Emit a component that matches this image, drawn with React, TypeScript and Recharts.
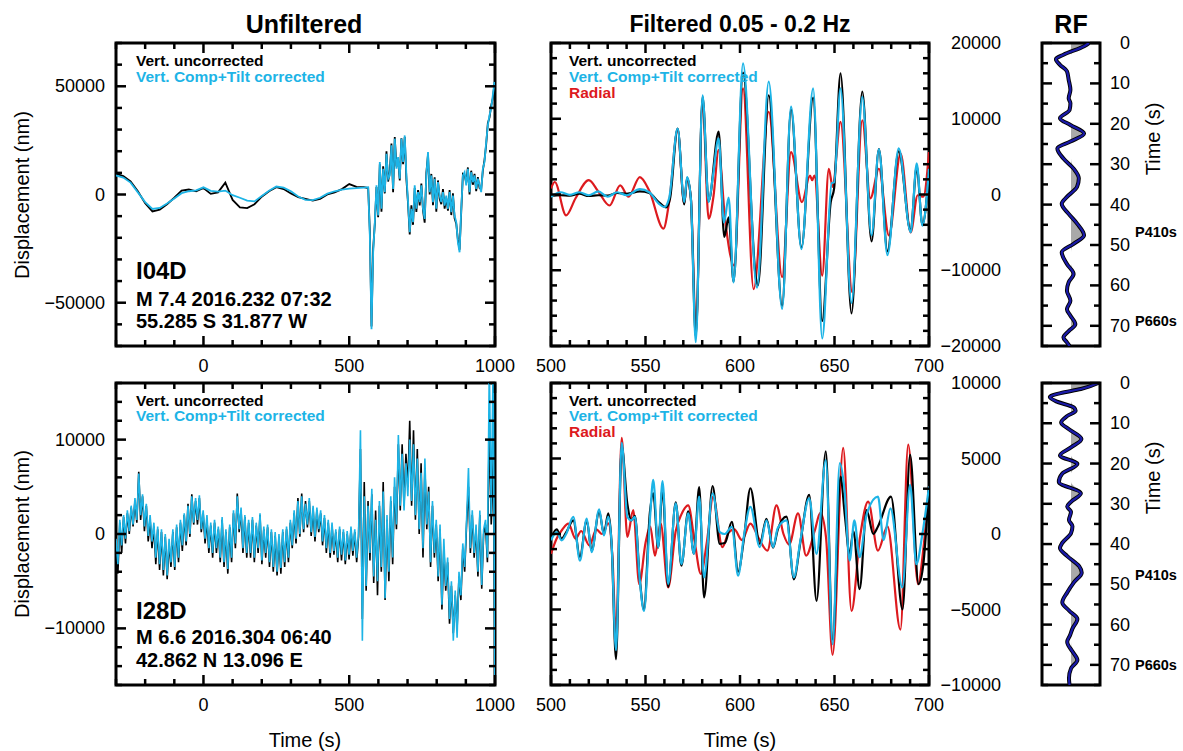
import React from "react";
import {
  LineChart,
  ComposedChart,
  Line,
  Area,
  XAxis,
  YAxis,
  ReferenceArea,
} from "recharts";

const CYAN = "#1db4e6";
const RED = "#dd1a1e";
const NAVY = "#1a1aa8";
const FONT = "'Liberation Sans', Arial, Helvetica, sans-serif";

// ---------- Unfiltered, I04D (slow part every 25 s from -300, noisy part every 5.7 s from 565)
const tlUncorrSlow = [9600, 8500, 6000, 1500, -4000, -7800, -7000, -4500, -1500, 1800, 2300, 1500, 3000, 300, 1000, 5500, -2500, -6000, -6300, -4500, -1000, 1500, 3400, 2500, 500, -1200, -2000, -2800, -2000, 0, 1000, 2500, 4800, 3500, 3400];
const tlCorrSlow = [8800, 7800, 5500, 1000, -3500, -6700, -6200, -4200, -1800, 600, 1500, 1900, 3300, 1700, 1300, 1800, -300, -1500, -2800, -3200, -700, 1700, 3700, 3200, 1500, -900, -2500, -2600, -1500, 400, 1500, 2300, 2700, 2900, 3200];
const tlUncorrFast = [
  3000, -17000, -61000, -25000, -13500, 3500, -10500, 14000, -8000, 13000,
  500, 20000, 6000, 10500, 23500, 1000, 26500, 13000, 16000, 6500,
  26000, 14000, 26500, 7000, -4500, -18500, -5000, -14000, 3000, -8000,
  2000, -5000, 5000, -7500, -13000, 10000, 18500, 0, 9500, -5000,
  8000, -8000, 6500, -2000, -4500, 2500, -6500, -1500, -7500, 2000,
  -9500, 500, -11000, -13500, -21000, -25500, -8000, 9500, 9000, 5500,
  12500, 0, 11000, 4500, 9500, 1500, 8000, 3000, 2500, 11000,
  16000, 23000, 33000, 35500, 41000, 44500, 51000,
];
const tlCorrFast = [
  3400, -19000, -62200, -26700, -12800, 4200, -9700, 15000, -6600, 11900,
  1100, 18800, 7300, 8800, 22700, 2600, 25800, 11900, 17300, 7300,
  25800, 15000, 27300, 8800, -3500, -17400, -6600, -12800, 4200, -6600,
  1100, -3500, 4200, -6600, -11300, 8800, 19600, 1100, 8800, -3500,
  7300, -6600, 5700, -500, -3500, 1100, -5100, -500, -6600, 1100,
  -8200, -500, -9700, -12800, -22100, -26700, -6600, 8800, 10300, 4200,
  11900, 1100, 10300, 5700, 8800, 2600, 7300, 4200, 1100, 11900,
  15000, 24200, 31900, 36600, 39700, 45800, 52000,
];

// ---------- Unfiltered, I28D (every 6.5 s from -300)
const blUncorr = [
  -800, -4200, 1200, -2000, 1800, -1000, 2200, 0, 2800, 800,
  3500, 1200, 6600, 1500, 4000, 300, 3000, -800, 1500, -1500,
  800, -3200, 500, -3800, 200, -4400, -300, -4800, -1000, -3500,
  200, -3800, 700, -3000, 1200, -1800, 2000, -1200, 3200, -300,
  4200, 1000, 3500, 1000, 3800, 200, 2200, -1000, 1500, -2000,
  900, -2500, 1200, -2000, 500, -3000, 1500, -3500, 200, -4200,
  700, -3000, 2200, -1500, 4300, 200, 2500, -2000, 1800, -2500,
  1200, -2500, 1500, -3000, 900, -2000, 2000, -3200, 500, -2500,
  700, -3500, 200, -4000, -200, -4400, -300, -4200, 200, -3500,
  500, -3000, 1200, -1500, 2200, -1000, 3800, -300, 4300, 200,
  3500, 700, 3500, -200, 2700, -800, 2500, 200, 2200, -1200,
  1700, -2000, 1200, -2500, 900, -2200, 200, -3000, 500, -2800,
  200, -3200, 0, -2700, 500, -2300, 200, -3000, -300, 9000,
  -9000, 5500, -6000, 3500, -2800, 4200, -5200, 2500, -6500, 3000,
  -4000, 5500, -7000, 1500, -5000, 3500, -3200, 5000, 500, 9500,
  2500, 9500, 3000, 8500, 5000, 12000, 3000, 11000, 1500, 9000,
  0, 7500, -2500, 7000, 500, 5000, -3500, 3000, -2500, 1000,
  -5000, 500, -8000, -1500, -6000, -3000, -9500, -5500, -10500, -6500,
  -10000, -4500, -7000, -1500, -4000, 1000, 5000, -2000, 2000, -2500,
  500, -4500, 2000, -5800, 0, 1000, -3000, 12000, 1000, 8000, -12000,
];
const blCorr = [
  -500, -3200, 1500, -1200, 2000, -500, 2500, 300, 3000, 1000,
  3800, 1500, 6400, 2000, 4200, 800, 3200, -200, 2000, -800,
  1200, -2500, 800, -3200, 500, -3800, 0, -4400, -500, -3000,
  500, -3500, 1000, -2500, 1500, -1200, 2200, -800, 3000, 0,
  4000, 1200, 3800, 1500, 4100, 500, 2500, -500, 2000, -1500,
  1200, -2000, 1500, -1500, 800, -2500, 1800, -3000, 500, -3700,
  1000, -2500, 2500, -1000, 4000, 500, 2800, -1500, 2000, -2000,
  1500, -2000, 1800, -2500, 1200, -1500, 2200, -2800, 800, -2000,
  1000, -3000, 500, -3500, 200, -4000, 0, -3600, 500, -3000,
  800, -2500, 1500, -1200, 2500, -500, 3500, 0, 4000, 500,
  3200, 1000, 3800, 200, 3000, -300, 2800, 500, 2500, -800,
  2000, -1500, 1500, -2000, 1200, -1800, 500, -2500, 800, -2200,
  500, -2800, 300, -2200, 800, -1800, 500, -2500, 0, 11000,
  -11300, 4000, -5500, 3000, -2000, 4800, -4500, 1500, -5000, 3500,
  -3500, 4500, -6800, 2000, -4000, 4000, -2500, 6000, 1000, 10500,
  3000, 8500, 2500, 7500, 4000, 10000, 3500, 9500, 2000, 8000,
  500, 6500, -1500, 8000, 1000, 4500, -3000, 3500, -2000, 1500,
  -4500, 1000, -7500, -500, -5500, -2500, -9000, -5000, -11300, -6000,
  -11000, -4000, -6500, -1000, -3500, 1500, 7000, -1500, 2500, -2000,
  1000, -4000, 2500, -5400, 500, 1500, -2500, 18000, 2000, 18000, -18000,
];

// ---------- Filtered 0.05-0.2 Hz, I04D  [time s, nm]
const tmUncorr = [[500, -200], [505, -100], [510, -150], [515, 100], [520, -200], [525, -100], [530, -150], [535, 200], [540, 100], [547, 400], [552, 200], [557, -1000], [561, -1700], [563, -500], [567, 8700], [570.5, -1300], [572, 2200], [574, -500], [576.6, -18800], [580.2, 12900], [583.4, -900], [588.7, 8300], [591.7, -5600], [594, -3000], [596.6, -11500], [601.6, 16100], [608.5, -11200], [609.5, -12000], [615.2, 13100], [622.3, -14700], [627, 11200], [632.5, -7000], [638.7, 12800], [643.5, -16700], [648, -1000], [649.8, 800], [653.2, 16000], [659, -15700], [664.7, 13600], [669.6, -6200], [673.5, 6000], [678, -7500], [684, 5700], [690.3, -4800], [693.5, 3700], [696.5, -4000], [700, 3000]];
const tmCorr = [[500, -300], [505, 300], [510, -50], [515, 300], [520, -100], [525, 400], [530, -300], [535, 300], [540, -100], [547, 700], [552, 300], [557, -1200], [560, -1650], [562.5, -500], [567, 8700], [570.5, -1000], [572, 2300], [574, -500], [576.6, -19500], [580.2, 13100], [583.4, -1000], [585.5, 2100], [588.7, 7400], [591.5, -3700], [594, -400], [596.6, -11600], [601.6, 17300], [609, -12300], [615.2, 14900], [622.3, -15100], [627, 11600], [632.5, -7200], [638.7, 14000], [643.5, -19000], [648.5, 1500], [649.8, 1600], [653.2, 14000], [659, -14300], [664.7, 12900], [669.6, -5400], [673.5, 6000], [678, -8000], [684, 6100], [690.3, -5000], [693.5, 4100], [696.5, -4100], [700, 3400]];
const tmRadial = [[500, 800], [502, 1650], [508, -2760], [513, -500], [520, 1900], [525, 400], [531, -1450], [536.6, 1200], [541, -300], [547, 2300], [552, 500], [559.5, -4500], [562.5, -1000], [567, 8500], [570.5, -1200], [572, 2000], [574, -500], [576.7, -17800], [580.2, 12300], [583.4, -3200], [586, -200], [588.7, 5900], [592, -3000], [597, -9400], [601.6, 14000], [607.2, -12500], [615.2, 10900], [622.3, -10900], [627, 5600], [632.8, -1000], [637, 2500], [638.2, 1900], [639.4, 2500], [643.5, -10700], [647, 3400], [649, 1000], [653.2, 9600], [659.4, -12900], [664.7, 9800], [669, -500], [673.5, 3400], [678.8, -5400], [685, 5400], [690.3, -5000], [694, -100], [697, -300], [700, 5600]];

// ---------- Filtered 0.05-0.2 Hz, I28D
const bmUncorr = [[500, -300], [503, 300], [505.6, -300], [508, 100], [511.8, 900], [515.3, -1500], [518.9, 900], [521.5, -1100], [525.5, 1500], [528, 0], [530.3, 1360], [532, -500], [534.4, -8300], [537.4, 5800], [540.4, 1990], [542.5, 900], [544.4, 1200], [547, -3000], [549.2, -5000], [552.3, 1400], [554.1, 2700], [556.7, -900], [559, 3000], [562, -3500], [566, 2100], [569, -2100], [572.6, 1500], [575.6, -1300], [578.4, 3100], [581, -4200], [585.5, 3180], [589.3, -650], [592, -600], [595.7, 800], [599, -2500], [602, -400], [605.5, 3030], [610.5, -650], [614, 1000], [617.5, -900], [620, 300], [624.6, 1150], [628.5, -3000], [632, -500], [636.6, 2600], [640.5, -4430], [645.4, 5480], [649, -7000], [653.2, 3800], [655.5, 1200], [658, -1300], [660, 200], [663.3, -3650], [667, 1580], [670.5, 0], [673, 500], [679.9, 2470], [686, -5000], [690, 5250], [694.5, -3320], [697, -2000], [700, 3140]];
const bmCorr = [[500, -420], [503, 130], [505.6, -420], [508, 0], [511.8, 1140], [515.3, -1760], [518.9, 1020], [521.5, -1200], [525.5, 1630], [528, -100], [530.3, 1150], [532, -500], [534.4, -7700], [537.4, 6040], [540.4, 1140], [542.5, 900], [544.4, 1140], [547, -3100], [549.2, -5100], [552.3, 900], [554.1, 3590], [556.7, -870], [559, 3500], [562, -3320], [566, 2030], [569, -2000], [572.6, 1360], [575.6, -1310], [578.4, 2470], [581, -2870], [585.5, 2700], [589.3, 130], [592, 0], [595.7, 470], [599, -2760], [602, -200], [605.5, 1800], [610.5, -870], [614, 900], [617.5, -870], [620, 400], [624.6, 900], [628.5, -2870], [632, -400], [636.6, 2360], [640.5, -1310], [645.4, 4900], [649, -7300], [652.8, 4700], [655.3, 2900], [658, -1760], [660.5, 900], [663.3, -1540], [667, 1300], [673, 2470], [676, -400], [679.6, 1700], [685.9, -3540], [690, 3250], [693.3, -2000], [696.5, 0], [700, 3140]];
const bmRadial = [[500, -1310], [503, -300], [506, 300], [509.2, 690], [513, -300], [516, 200], [520.3, -760], [524, 300], [527, 0], [530.3, 700], [532.5, -1500], [534.4, -6660], [537.4, 6370], [540.4, -200], [543.5, 1580], [546.7, -3320], [550, -600], [552.5, 500], [555, -1430], [558, 700], [562, -3540], [566, 200], [569, 1300], [572.6, 1900], [576, -500], [579.3, -2650], [582.5, -500], [585.8, 2470], [590.7, -870], [594, 100], [597, 300], [601, -400], [605.5, 690], [610, -300], [614.5, -1100], [619.3, 1900], [623, 0], [626, -700], [630.7, 1360], [635, -1430], [639.5, 200], [642.5, 1400], [645.5, -200], [649, -8000], [654.6, 5700], [659, -5100], [663.5, -200], [667.8, 2140], [673, -1100], [678, 500], [684.9, -6330], [689, 5920], [694.2, -3320], [697, -1000], [700, 3140]];

// ---------- Receiver functions [time s, amplitude]
const rfTop = [[0, 0.62], [0.8, 0.45], [2.9, -0.26], [4, -0.52], [5.4, -0.38], [7, -0.14], [9.1, -0.08], [11.6, -0.02], [13.7, -0.08], [14.9, -0.02], [16.6, -0.05], [18.6, -0.38], [20.3, -0.02], [22.4, 0.45], [24.4, -0.02], [26.1, -0.47], [28.6, -0.26], [31.1, 0.09], [33.5, 0.27], [35.6, 0.21], [38.1, -0.14], [39.8, -0.32], [42.3, -0.08], [44.7, 0.21], [47.6, 0.45], [49.7, 0.09], [51.8, -0.32], [54.7, -0.14], [57.2, 0.09], [59.2, -0.08], [61.3, -0.14], [63.8, -0.02], [65.9, -0.14], [67.5, -0.02], [69.6, 0.15], [71.3, -0.08], [72.9, -0.26], [74.1, -0.14], [75, -0.05]];
const rfBottom = [[0, 0.94], [1.5, 0.34], [2.5, -0.36], [3.5, -0.73], [4.5, -0.53], [6.1, 0.1], [6.9, 0.16], [8.2, -0.13], [9.8, -0.34], [11.5, -0.07], [13.9, 0.36], [16, 0], [18, -0.38], [20.1, 0.22], [22.5, -0.3], [24.6, -0.42], [27.4, 0.34], [29.5, 0], [30.7, -0.13], [32, 0], [34, -0.07], [35.6, 0.05], [37.3, 0], [39.7, -0.3], [41, -0.38], [43, -0.13], [45.5, 0.28], [47.1, 0.37], [49.5, 0.1], [52, -0.13], [54.5, -0.3], [56.5, -0.07], [58.6, 0.22], [61, 0.05], [62.6, -0.03], [64.3, -0.13], [66.7, 0.05], [68.8, 0.22], [70.9, 0], [73.3, -0.07], [75, -0.05]];

// ---------- ticks
const unfXTicks = [-300, -200, -100, 0, 100, 200, 300, 400, 500, 600, 700, 800, 900, 1000];
const unfXLabels = [0, 500, 1000];
const filtXTicks = [500, 510, 520, 530, 540, 550, 560, 570, 580, 590, 600, 610, 620, 630, 640, 650, 660, 670, 680, 690, 700];
const filtXLabels = [500, 550, 600, 650, 700];
const tlYTicks = [-70000, -60000, -50000, -40000, -30000, -20000, -10000, 0, 10000, 20000, 30000, 40000, 50000, 60000, 70000];
const tlYLabels = [-50000, 0, 50000];
const blYTicks = [-16000, -14000, -12000, -10000, -8000, -6000, -4000, -2000, 0, 2000, 4000, 6000, 8000, 10000, 12000, 14000, 16000];
const blYLabels = [-10000, 0, 10000];
const tmYTicks = [-20000, -18000, -16000, -14000, -12000, -10000, -8000, -6000, -4000, -2000, 0, 2000, 4000, 6000, 8000, 10000, 12000, 14000, 16000, 18000, 20000];
const tmYLabels = [-20000, -10000, 0, 10000, 20000];
const bmYTicks = [-10000, -9000, -8000, -7000, -6000, -5000, -4000, -3000, -2000, -1000, 0, 1000, 2000, 3000, 4000, 5000, 6000, 7000, 8000, 9000, 10000];
const bmYLabels = [-10000, -5000, 0, 5000, 10000];
const rfTicks = [0, 5, 10, 15, 20, 25, 30, 35, 40, 45, 50, 55, 60, 65, 70, 75];
const rfLabels = [0, 10, 20, 30, 40, 50, 60, 70];

type Pt = { t: number; v: number };

const sampled = (t0: number, dt: number, vals: number[]): Pt[] =>
  vals.map((v, i) => ({ t: t0 + i * dt, v }));
const paired = (rows: number[][]): Pt[] => rows.map(([t, v]) => ({ t, v }));

const fmt = (v: number) => (v < 0 ? "\u2212" + Math.abs(v) : String(v));

const M = 80;
const AX = 30; // axis band kept inside the margin

function xTick(h: number, labels: number[], dy: number) {
  return (props: any) => {
    const { x, y, payload } = props;
    const v = payload.value;
    const len = labels.includes(v) ? 10 : 6;
    return (
      <g>
        <line x1={x} x2={x} y1={y} y2={y - len} stroke="#000" strokeWidth={2.5} />
        <line x1={x} x2={x} y1={y - h} y2={y - h + len} stroke="#000" strokeWidth={2.5} />
        {labels.includes(v) && (
          <text x={x} y={y + dy} textAnchor="middle" dominantBaseline="central" fontSize={18} fontFamily={FONT} fill="#000">
            {fmt(v)}
          </text>
        )}
      </g>
    );
  };
}

function yTick(w: number, labels: number[], side: "left" | "right", dx: number) {
  return (props: any) => {
    const { x, y, payload } = props;
    const v = payload.value;
    const len = labels.includes(v) ? 10 : 6;
    const lx = side === "left" ? x - dx : x + w + dx;
    return (
      <g>
        <line x1={x} x2={x + len} y1={y} y2={y} stroke="#000" strokeWidth={2.5} />
        <line x1={x + w} x2={x + w - len} y1={y} y2={y} stroke="#000" strokeWidth={2.5} />
        {labels.includes(v) && (
          <text x={lx} y={y} textAnchor="end" dominantBaseline="central" fontSize={18} fontFamily={FONT} fill="#000">
            {fmt(v)}
          </text>
        )}
      </g>
    );
  };
}

interface Series {
  data: Pt[];
  color: string;
  width: number;
  curve: "linear" | "monotone";
}

interface PanelProps {
  left: number;
  top: number;
  w: number;
  h: number;
  xDomain: [number, number];
  xTicks: number[];
  xLabels: number[];
  yDomain: [number, number];
  yTicks: number[];
  yLabels: number[];
  ySide: "left" | "right";
  yDx: number;
  series: Series[];
}

function WavePanel(p: PanelProps) {
  return (
    <div style={{ position: "absolute", left: p.left - M, top: p.top - M }}>
      <LineChart
        width={p.w + 2 * M}
        height={p.h + 2 * M}
        margin={{ top: M, right: M, bottom: M - AX, left: M - AX }}
      >
        <XAxis
          type="number"
          dataKey="t"
          domain={p.xDomain}
          allowDataOverflow
          ticks={p.xTicks}
          interval={0}
          height={AX}
          tickSize={0}
          tickMargin={0}
          tickLine={false}
          axisLine={false}
          tick={xTick(p.h, p.xLabels, 20)}
        />
        <YAxis
          type="number"
          domain={p.yDomain}
          allowDataOverflow
          ticks={p.yTicks}
          interval={0}
          width={AX}
          tickSize={0}
          tickMargin={0}
          tickLine={false}
          axisLine={false}
          tick={yTick(p.w, p.yLabels, p.ySide, p.yDx)}
        />
        {p.series.map((s, i) => (
          <Line
            key={i}
            data={s.data}
            dataKey="v"
            type={s.curve}
            stroke={s.color}
            strokeWidth={s.width}
            dot={false}
            isAnimationActive={false}
          />
        ))}
        <ReferenceArea
          x1={p.xDomain[0]}
          x2={p.xDomain[1]}
          y1={p.yDomain[0]}
          y2={p.yDomain[1]}
          fill="none"
          fillOpacity={0}
          stroke="#000"
          strokeWidth={3}
        />
      </LineChart>
    </div>
  );
}

function RFPanel({ left, top, w, h, rows }: { left: number; top: number; w: number; h: number; rows: number[][] }) {
  const data = rows.map(([t, a]) => ({ t, a, pos: Math.max(a, 0) }));
  return (
    <div style={{ position: "absolute", left: left - M, top: top - M }}>
      <ComposedChart
        layout="vertical"
        width={w + 2 * M}
        height={h + 2 * M}
        margin={{ top: M, right: M, bottom: M - AX, left: M - AX }}
      >
        <XAxis
          type="number"
          domain={[-1, 1]}
          allowDataOverflow
          height={AX}
          tick={false}
          tickLine={false}
          axisLine={false}
        />
        <YAxis
          type="number"
          dataKey="t"
          domain={[0, 75]}
          allowDataOverflow
          ticks={rfTicks}
          interval={0}
          width={AX}
          tickSize={0}
          tickMargin={0}
          tickLine={false}
          axisLine={false}
          tick={yTick(w, rfLabels, "right", 30)}
        />
        <Area data={data} dataKey="pos" type="monotone" fill="#a9a9a9" fillOpacity={1} stroke="none" isAnimationActive={false} />
        <Line data={data} dataKey="a" type="monotone" stroke="#000" strokeWidth={4} dot={false} isAnimationActive={false} />
        <Line data={data} dataKey="a" type="monotone" stroke={NAVY} strokeWidth={2.2} dot={false} isAnimationActive={false} />
        <ReferenceArea x1={-1} x2={1} y1={0} y2={75} fill="none" fillOpacity={0} stroke="#000" strokeWidth={3} />
      </ComposedChart>
    </div>
  );
}

const legendStyle = { fontSize: 15.5, fontWeight: 700 as const, fontFamily: FONT };

export default function App() {
  const tlUnc = [...sampled(-300, 25, tlUncorrSlow), ...sampled(565, 5.7, tlUncorrFast)];
  const tlCor = [...sampled(-300, 25, tlCorrSlow), ...sampled(565, 5.7, tlCorrFast)];
  const blUnc = sampled(-300, 6.5, blUncorr);
  const blCor = sampled(-300, 6.5, blCorr);

  return (
    <div style={{ position: "absolute", left: 0, top: 0, width: 1183, height: 751, background: "#fff", fontFamily: FONT, overflow: "hidden" }}>
      <WavePanel
        left={116} top={43} w={379} h={303}
        xDomain={[-300, 1000]} xTicks={unfXTicks} xLabels={unfXLabels}
        yDomain={[-70000, 70000]} yTicks={tlYTicks} yLabels={tlYLabels} ySide="left" yDx={11}
        series={[
          { data: tlUnc, color: "#000", width: 1.8, curve: "linear" },
          { data: tlCor, color: CYAN, width: 1.8, curve: "linear" },
        ]}
      />
      <WavePanel
        left={551} top={43} w={378} h={303}
        xDomain={[500, 700]} xTicks={filtXTicks} xLabels={filtXLabels}
        yDomain={[-20000, 20000]} yTicks={tmYTicks} yLabels={tmYLabels} ySide="right" yDx={72}
        series={[
          { data: paired(tmRadial), color: RED, width: 2.2, curve: "monotone" },
          { data: paired(tmUncorr), color: "#000", width: 2.2, curve: "monotone" },
          { data: paired(tmCorr), color: CYAN, width: 2.2, curve: "monotone" },
        ]}
      />
      <RFPanel left={1042} top={43} w={58} h={303} rows={rfTop} />
      <WavePanel
        left={116} top={383} w={379} h={302}
        xDomain={[-300, 1000]} xTicks={unfXTicks} xLabels={unfXLabels}
        yDomain={[-16000, 16000]} yTicks={blYTicks} yLabels={blYLabels} ySide="left" yDx={11}
        series={[
          { data: blUnc, color: "#000", width: 1.6, curve: "linear" },
          { data: blCor, color: CYAN, width: 1.6, curve: "linear" },
        ]}
      />
      <WavePanel
        left={551} top={383} w={378} h={302}
        xDomain={[500, 700]} xTicks={filtXTicks} xLabels={filtXLabels}
        yDomain={[-10000, 10000]} yTicks={bmYTicks} yLabels={bmYLabels} ySide="right" yDx={72}
        series={[
          { data: paired(bmRadial), color: RED, width: 2.2, curve: "monotone" },
          { data: paired(bmUncorr), color: "#000", width: 2.2, curve: "monotone" },
          { data: paired(bmCorr), color: CYAN, width: 2.2, curve: "monotone" },
        ]}
      />
      <RFPanel left={1042} top={383} w={58} h={302} rows={rfBottom} />

      <svg width={1183} height={751} style={{ position: "absolute", left: 0, top: 0, pointerEvents: "none" }}>
        <g fontFamily={FONT} fill="#000">
          <text x={304} y={24} textAnchor="middle" dominantBaseline="central" fontSize={25} fontWeight={700}>Unfiltered</text>
          <text x={740} y={24} textAnchor="middle" dominantBaseline="central" fontSize={23} fontWeight={700}>Filtered 0.05 - 0.2 Hz</text>
          <text x={1071} y={24} textAnchor="middle" dominantBaseline="central" fontSize={25} fontWeight={700}>RF</text>

          <text transform="translate(22,195) rotate(-90)" textAnchor="middle" dominantBaseline="central" fontSize={20}>Displacement (nm)</text>
          <text transform="translate(22,534) rotate(-90)" textAnchor="middle" dominantBaseline="central" fontSize={20}>Displacement (nm)</text>
          <text x={305} y={740} textAnchor="middle" dominantBaseline="central" fontSize={20}>Time (s)</text>
          <text x={740} y={740} textAnchor="middle" dominantBaseline="central" fontSize={20}>Time (s)</text>
          <text transform="translate(1153,139) rotate(-90)" textAnchor="middle" dominantBaseline="central" fontSize={20}>Time (s)</text>
          <text transform="translate(1153,478) rotate(-90)" textAnchor="middle" dominantBaseline="central" fontSize={20}>Time (s)</text>

          <text x={1135} y={232} dominantBaseline="central" fontSize={14.5} fontWeight={700}>P410s</text>
          <text x={1135} y={321} dominantBaseline="central" fontSize={14.5} fontWeight={700}>P660s</text>
          <text x={1135} y={575} dominantBaseline="central" fontSize={14.5} fontWeight={700}>P410s</text>
          <text x={1135} y={665} dominantBaseline="central" fontSize={14.5} fontWeight={700}>P660s</text>

          <text x={136} y={60} dominantBaseline="central" style={legendStyle}>Vert. uncorrected</text>
          <text x={136} y={76} dominantBaseline="central" style={legendStyle} fill={CYAN}>Vert. Comp+Tilt corrected</text>
          <text x={569} y={60} dominantBaseline="central" style={legendStyle}>Vert. uncorrected</text>
          <text x={569} y={76} dominantBaseline="central" style={legendStyle} fill={CYAN}>Vert. Comp+Tilt corrected</text>
          <text x={569} y={92} dominantBaseline="central" style={legendStyle} fill={RED}>Radial</text>

          <text x={136} y={400} dominantBaseline="central" style={legendStyle}>Vert. uncorrected</text>
          <text x={136} y={415.5} dominantBaseline="central" style={legendStyle} fill={CYAN}>Vert. Comp+Tilt corrected</text>
          <text x={569} y={400} dominantBaseline="central" style={legendStyle}>Vert. uncorrected</text>
          <text x={569} y={415.5} dominantBaseline="central" style={legendStyle} fill={CYAN}>Vert. Comp+Tilt corrected</text>
          <text x={569} y={431} dominantBaseline="central" style={legendStyle} fill={RED}>Radial</text>

          <text x={136} y={270} dominantBaseline="central" fontSize={24} fontWeight={700}>I04D</text>
          <text x={136} y={299} dominantBaseline="central" fontSize={20} fontWeight={700}>M 7.4 2016.232 07:32</text>
          <text x={136} y={321} dominantBaseline="central" fontSize={20} fontWeight={700}>55.285 S 31.877 W</text>
          <text x={136} y={610} dominantBaseline="central" fontSize={24} fontWeight={700}>I28D</text>
          <text x={136} y={637} dominantBaseline="central" fontSize={20} fontWeight={700}>M 6.6 2016.304 06:40</text>
          <text x={136} y={660} dominantBaseline="central" fontSize={20} fontWeight={700}>42.862 N 13.096 E</text>
        </g>
      </svg>
    </div>
  );
}
